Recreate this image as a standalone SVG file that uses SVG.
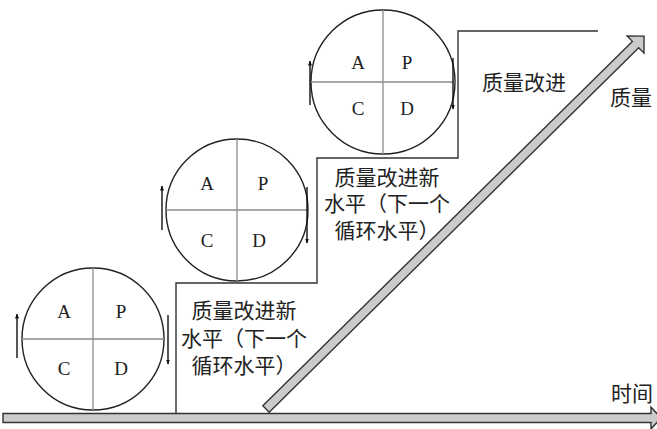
<svg xmlns="http://www.w3.org/2000/svg" width="657" height="429" viewBox="0 0 657 429">
<defs>
<style>
.circ{fill:#fff;stroke:#222;stroke-width:1.4}
.div{stroke:#8a8a8a;stroke-width:1.3}
.lt{font-family:"Liberation Serif","Times New Roman",serif;font-size:19px;fill:#222;text-anchor:middle}
.cn{font-family:"Noto Sans CJK SC","Noto Sans",sans-serif;font-size:21px;fill:#222;text-anchor:middle}
.rot{stroke:#111;stroke-width:1.4;fill:none;marker-end:url(#ah)}
.step{fill:none;stroke:#333;stroke-width:1.4}
.bar{fill:#cbcbcb;stroke:#333;stroke-width:1.4;stroke-linejoin:miter}
</style>
<marker id="ah" viewBox="0 0 10 10" refX="9" refY="5" markerWidth="5" markerHeight="7" markerUnits="userSpaceOnUse" orient="auto">
<path d="M0,1 L10,5 L0,9 Z" fill="#111"/>
</marker>
</defs>
<rect width="657" height="429" fill="#fff"/>
<g id="connectors">
<path class="step" d="M176,413 V283 H317 V158 H458 V31 H598"/>
<polygon class="bar" points="3,413.5 651,413.5 651,407 661,418 651,429 651,422.5 3,422.5"/>
<g transform="translate(266,409) rotate(-44.6)">
<polygon class="bar" points="0,-4.5 519,-4.5 519,-12 531,0 519,12 519,4.5 0,4.5"/>
</g>
</g>
<g id="cycle1">
<circle class="circ" cx="93" cy="339" r="71"/>
<line class="div" x1="22" y1="339" x2="164" y2="339"/>
<line class="div" x1="93" y1="268" x2="93" y2="410"/>
<text class="lt" x="64" y="318">A</text>
<text class="lt" x="121" y="318">P</text>
<text class="lt" x="64" y="375">C</text>
<text class="lt" x="121" y="375">D</text>
<line class="rot" x1="17" y1="358" x2="17" y2="314"/>
<line class="rot" x1="168" y1="315" x2="168" y2="364"/>
</g>
<g id="cycle2">
<circle class="circ" cx="237" cy="210" r="71"/>
<line class="div" x1="166" y1="210" x2="308" y2="210"/>
<line class="div" x1="237" y1="139" x2="237" y2="281"/>
<text class="lt" x="207" y="190">A</text>
<text class="lt" x="263" y="190">P</text>
<text class="lt" x="207" y="247">C</text>
<text class="lt" x="259" y="247">D</text>
<line class="rot" x1="162" y1="230" x2="162" y2="186"/>
<line class="rot" x1="307" y1="187" x2="307" y2="243"/>
</g>
<g id="cycle3">
<circle class="circ" cx="383" cy="82" r="72"/>
<line class="div" x1="311" y1="82" x2="455" y2="82"/>
<line class="div" x1="383" y1="10" x2="383" y2="154"/>
<text class="lt" x="358" y="69">A</text>
<text class="lt" x="407" y="69">P</text>
<text class="lt" x="358" y="115">C</text>
<text class="lt" x="407" y="115">D</text>
<line class="rot" x1="310" y1="105" x2="310" y2="61"/>
<line class="rot" x1="453" y1="58" x2="453" y2="109"/>
</g>
<g id="label-level1">
<text class="cn" x="244" y="318">质量改进新</text>
<text class="cn" x="244" y="346">水平（下一个</text>
<text class="cn" x="244" y="373">循环水平）</text>
</g>
<g id="label-level2">
<text class="cn" x="387" y="185">质量改进新</text>
<text class="cn" x="387" y="211">水平（下一个</text>
<text class="cn" x="387" y="238">循环水平）</text>
</g>
<g id="label-improve">
<text class="cn" x="524" y="90">质量改进</text>
</g>
<g id="label-quality">
<text class="cn" x="631" y="105">质量</text>
</g>
<g id="label-time">
<text class="cn" x="632" y="401">时间</text>
</g>
</svg>
